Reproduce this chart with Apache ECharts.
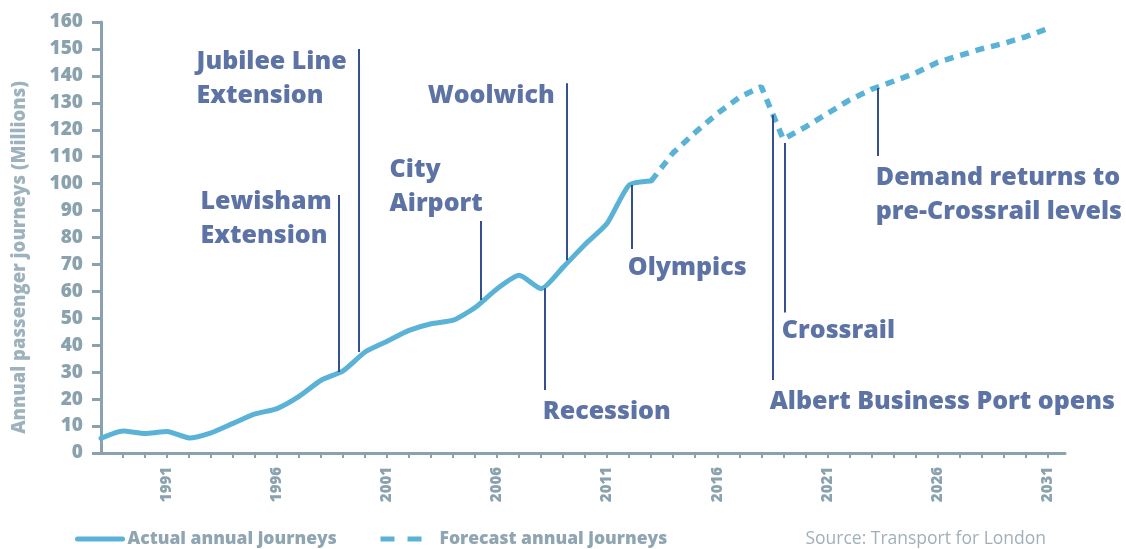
<!DOCTYPE html>
<html>
<head>
<meta charset="utf-8">
<script src="https://cdn.jsdelivr.net/npm/echarts@6/dist/echarts.min.js"></script>
<style>
html,body{margin:0;padding:0;background:#fff;}
#chart{width:1126px;height:549px;}
</style>
</head>
<body>
<div id="chart"></div>
<script>
// ---- data ----
const actualYears = [1988,1989,1990,1991,1992,1993,1994,1995,1996,1997,1998,1999,2000,2001,2002,2003,2004,2005,2006,2007,2008,2009,2010,2011,2012,2013];
const actualValues = [5.5,8.2,7.2,8.0,5.6,7.5,11,14.5,16.5,21,27,30.5,37.5,41.5,45.5,48,49.3,54,61,66,61,69,77.5,85.3,99.5,101];
const forecastYears = [2013,2014,2015,2016,2017,2018,2019,2020,2021,2022,2023,2024,2025,2026,2027,2028,2029,2030,2031];
const forecastValues = [101,111.5,119,126,132,136,116.5,121,126,131,135,138,141,145,147.5,150,152,154.5,157.5];
const yTicks = [0,10,20,30,40,50,60,70,80,90,100,110,120,130,140,150,160];
const xLabelYears = [1991,1996,2001,2006,2011,2016,2021,2026,2031];

// annotations (in data coordinates)
const annoText = ['Lewisham\nExtension','Jubilee Line\nExtension','City\nAirport','Woolwich','Recession','Olympics','Crossrail','Albert Business Port opens','Demand returns to\npre-Crossrail levels'];
const annoTextX = [1992.5,1992.32,2001.09,2002.82,2008.05,2011.91,2018.91,2018.36,2023.18];
const annoTextY = [87.0,139.0,98.7,132.5,15.2,68.7,45.3,18.9,95.8];
const annoLineX = [1998.82,1999.73,2005.27,2009.14,2008.18,2012.11,2018.5,2019.05,2023.27];
const annoLineTop = [95.8,150,86.1,137.3,61.2,99.5,125.5,115.1,135.5];
const annoLineBottom = [30.1,37.5,56.8,71.6,23.4,75.7,27.1,52.2,110.3];

const LINE = '#5ab3d6';
const DARK = '#34508f';
const AXIS = '#8aa2ae';
const FONT = '"Open Sans", "Noto Sans", sans-serif';

const legendText = {fontFamily: FONT, fontWeight: 800, fontSize: 17.5, color: '#8fa6b2'};

const chart = echarts.init(document.getElementById('chart'), null, {renderer:'canvas'});
chart.setOption({
  animation: false,
  textStyle: {fontFamily: FONT},
  title: {
    text: 'Source: Transport for London',
    right: 75, top: 525,
    textStyle: {fontFamily: FONT, fontWeight: 'normal', fontSize: 17.5, color: '#a0b0b9'}
  },
  legend: [
    {
      data: [{name: 'Actual annual journeys', itemStyle: {opacity: 0}, lineStyle: {width: 5, color: LINE, type: 'solid'}}],
      left: 75, top: 530, padding: 0, itemWidth: 45, itemHeight: 14, itemGap: 0,
      textStyle: legendText,
      selectedMode: false
    },
    {
      data: [{name: 'Forecast annual journeys', itemStyle: {opacity: 0}, lineStyle: {width: 5, color: LINE, type: [14,13]}}],
      left: 378, top: 530, padding: 0, itemWidth: 54, itemHeight: 14, itemGap: 0,
      textStyle: legendText,
      selectedMode: false
    }
  ],
  grid: {left: 101, right: 61, top: 22, bottom: 96, containLabel: false},
  xAxis: {
    type: 'value', min: 1988, max: 2031.8, interval: 1,
    axisLine: {show: true, lineStyle: {color: AXIS, width: 3}},
    axisTick: {show: true, length: 5, lineStyle: {color: AXIS, width: 2}},
    splitLine: {show: false},
    axisLabel: {
      rotate: 90, margin: 14,
      fontFamily: FONT, fontWeight: 800, fontSize: 15, color: AXIS,
      showMinLabel: false, showMaxLabel: false,
      formatter: v => xLabelYears.indexOf(v) >= 0 ? String(v) : ''
    }
  },
  yAxis: {
    type: 'value', min: yTicks[0], max: yTicks[yTicks.length-1], interval: 10,
    name: 'Annual passenger journeys (Millions)',
    nameLocation: 'middle', nameRotate: 90, nameGap: 72,
    nameTextStyle: {fontFamily: FONT, fontWeight: 800, fontSize: 18.5, color: '#9db2bd', padding: [0, 40, 0, 0]},
    axisLine: {show: true, lineStyle: {color: AXIS, width: 3}},
    axisTick: {show: true, length: 9, lineStyle: {color: AXIS, width: 3}},
    splitLine: {show: false},
    axisLabel: {margin: 18, fontFamily: FONT, fontWeight: 800, fontSize: 19, color: AXIS}
  },
  series: [
    {
      name: 'Actual annual journeys', type: 'line', symbol: 'none', smooth: 0.2,
      data: actualYears.map((y,i) => [y, actualValues[i]]),
      lineStyle: {color: LINE, width: 5, cap: 'round', join: 'round'},
      itemStyle: {color: LINE}, z: 3
    },
    {
      name: 'Forecast annual journeys', type: 'line', symbol: 'none', smooth: false,
      data: forecastYears.map((y,i) => [y, forecastValues[i]]),
      lineStyle: {color: LINE, width: 5.5, type: [9,7], cap: 'butt'},
      itemStyle: {color: LINE}, z: 3
    },
    {
      name: 'annotations', type: 'scatter', symbolSize: 1,
      itemStyle: {color: 'rgba(0,0,0,0)'},
      silent: true, z: 4,
      data: annoText.map((t,i) => ({value: [annoTextX[i], annoTextY[i]], name: t})),
      label: {
        show: true, position: 'right', distance: 0,
        formatter: p => p.name,
        fontFamily: FONT, fontWeight: 800, fontSize: 25, lineHeight: 34,
        color: DARK, align: 'left'
      },
      markLine: {
        silent: true, symbol: ['none','none'], animation: false,
        label: {show: false},
        lineStyle: {color: DARK, width: 2, type: 'solid'},
        emphasis: {disabled: true},
        data: annoLineX.map((x,i) => [{coord: [x, annoLineTop[i]]}, {coord: [x, annoLineBottom[i]]}])
      }
    }
  ]
});
</script>
</body>
</html>
